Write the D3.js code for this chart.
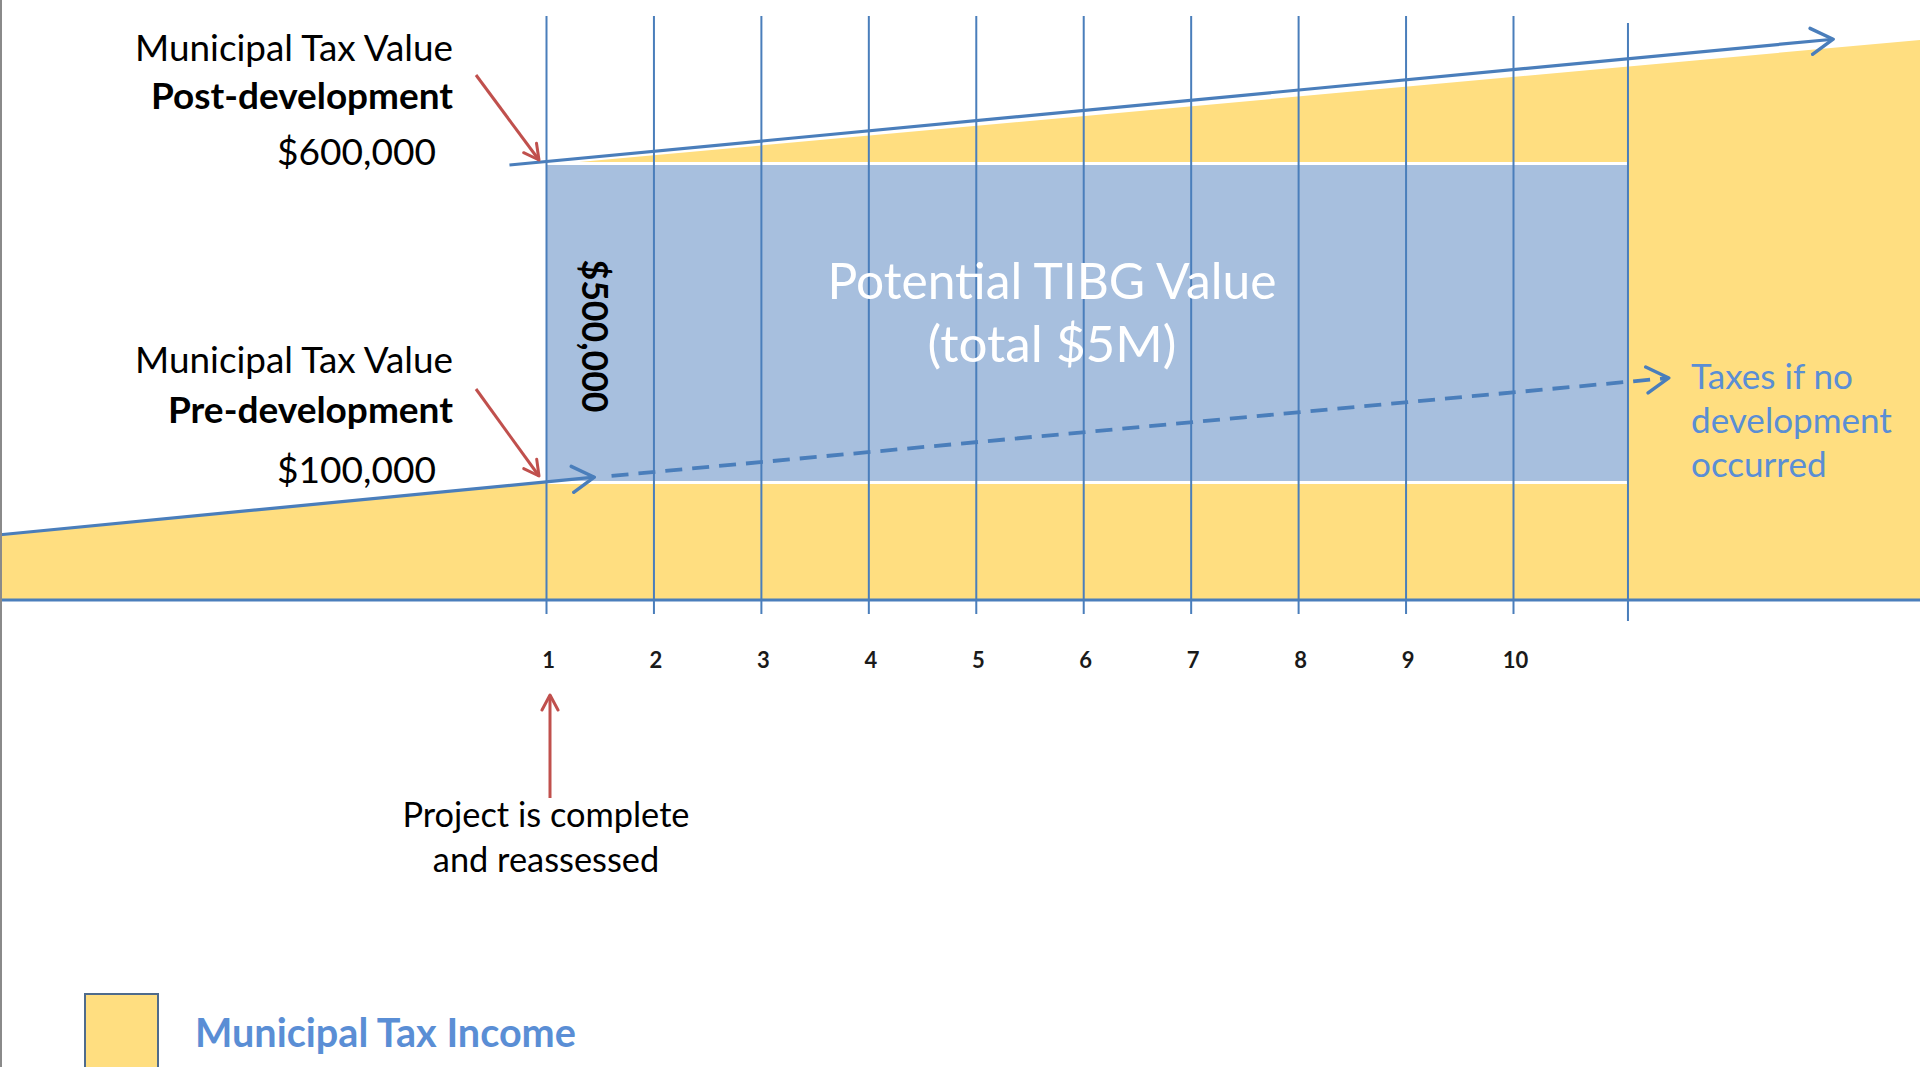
<!DOCTYPE html>
<html><head><meta charset="utf-8">
<script src="https://cdn.jsdelivr.net/npm/d3@7"></script>
<style>
html,body{margin:0;padding:0;background:#fff;overflow:hidden}
svg{display:block}
text{font-family:Lato,"Open Sans",sans-serif}
</style></head><body>
<svg id="chart" width="1920" height="1067"></svg>
<script>
// ---- data (values in $ thousands, x in years) ----
const years = [1, 2, 3, 4, 5, 6, 7, 8, 9, 10];
const tickLabels = ["1", "2", "3", "4", "5", "6", "7", "8", "9", "10"];
const tibgPeriod = [1, 11.07];
const tibgRange = [100, 600];
const incomeYears = [-4.08, 1, 1, 13.79];
const incomeValues = [15, 100, 600, 798];
const postDevYears = [0.66, 12.98];
const postDevValues = [600, 799];
const preDevYears = [-4.08, 1.45];
const preDevValues = [15, 106];
const noDevYears = [1.61, 11.45];
const noDevValues = [108, 263];
const preLabels = ["Municipal Tax Value", "Pre-development", "$100,000"];
const postLabels = ["Municipal Tax Value", "Post-development", "$600,000"];
const noDevLabel = ["Taxes if no", "development", "occurred"];
const completeLabel = ["Project is complete", "and reassessed"];
const tibgLabel = ["Potential TIBG Value", "(total $5M)"];
const tibgAnnual = "$500,000";
const legendLabel = "Municipal Tax Income";

// ---- layout ----
const W = 1920, H = 1067;
const axisY = 600, gridTop = 16, tickBottom = 614;
const YELLOW = "#FFDE80", RECTBLUE = "#A7BFDE", LINE = "#4A7EBB", RED = "#C0504D", TXTBLUE = "#5A8ED5";

const x = d3.scaleLinear().domain([1, 10]).range([546, 1513]);
const y = d3.scaleLinear().domain([100, 600]).range([481, 165]);

const svg = d3.select("#chart");
const defs = svg.append("defs");
function chevron(id, color, len, half, sw) {
  defs.append("marker").attr("id", id).attr("markerUnits", "userSpaceOnUse")
    .attr("viewBox", `-2 -2 ${len + 4} ${2 * half + 4}`)
    .attr("markerWidth", len + 4).attr("markerHeight", 2 * half + 4)
    .attr("refX", len).attr("refY", half).attr("orient", "auto")
    .append("path").attr("d", `M0,0 L${len},${half} L0,${2 * half}`)
    .attr("fill", "none").attr("stroke", color).attr("stroke-width", sw)
    .attr("stroke-linecap", "round").attr("stroke-linejoin", "round");
}
chevron("chevB", LINE, 22, 13, 3.4);
chevron("chevR", RED, 15, 8, 3);

function fit(sel, w) {
  sel.each(function () {
    const fs = parseFloat(this.getAttribute("font-size"));
    const len = this.getComputedTextLength();
    this.setAttribute("font-size", (fs * w / len).toFixed(2));
  });
}

// yellow municipal tax income area
const incomePts = incomeYears.map((d, i) => [d, incomeValues[i]]);
svg.append("path").datum(incomePts)
  .attr("d", d3.area().x(d => x(d[0])).y0(axisY).y1(d => y(d[1])))
  .attr("fill", YELLOW);

// TIBG rectangle
svg.append("rect")
  .attr("x", x(tibgPeriod[0])).attr("y", y(tibgRange[1]))
  .attr("width", x(tibgPeriod[1]) - x(tibgPeriod[0]))
  .attr("height", y(tibgRange[0]) - y(tibgRange[1]))
  .attr("fill", RECTBLUE);
svg.selectAll("line.edge").data(tibgRange).join("line").attr("class", "edge")
  .attr("x1", x(tibgPeriod[0])).attr("x2", x(tibgPeriod[1]))
  .attr("y1", d => y(d) + (d === tibgRange[0] ? 1.5 : -1.5))
  .attr("y2", d => y(d) + (d === tibgRange[0] ? 1.5 : -1.5))
  .attr("stroke", "#fff").attr("stroke-width", 3);

// grid / axis
const ax = svg.append("g").attr("transform", `translate(0,${tickBottom})`)
  .call(d3.axisBottom(x).tickValues(years).tickFormat((d, i) => tickLabels[i])
    .tickSize(-(tickBottom - gridTop)).tickPadding(38));
ax.select(".domain").remove();
ax.selectAll(".tick line").attr("stroke", LINE).attr("stroke-width", 2);
ax.selectAll(".tick text").attr("font-size", 22).attr("font-weight", 700).attr("fill", "#1a1a1a")
  .attr("font-family", "Lato").attr("dx", 2);
svg.append("line").attr("x1", x(tibgPeriod[1])).attr("x2", x(tibgPeriod[1]))
  .attr("y1", 23).attr("y2", 621).attr("stroke", LINE).attr("stroke-width", 2);
svg.append("line").attr("x1", 0).attr("x2", W).attr("y1", axisY).attr("y2", axisY)
  .attr("stroke", LINE).attr("stroke-width", 3);

// trend lines
const ln = d3.line().x(d => x(d[0])).y(d => y(d[1]));
const series = [
  {yr: postDevYears, v: postDevValues, dash: null},
  {yr: preDevYears, v: preDevValues, dash: null},
  {yr: noDevYears, v: noDevValues, dash: "17,10"}
];
svg.selectAll("path.trend").data(series).join("path").attr("class", "trend")
  .attr("d", s => ln(s.yr.map((d, i) => [d, s.v[i]])))
  .attr("fill", "none").attr("stroke", LINE).attr("stroke-width", s => s.dash ? 3.8 : 3.2)
  .attr("stroke-dasharray", s => s.dash).attr("marker-end", "url(#chevB)");

// labels left
function block(lines, baseY, offs, widths) {
  lines.forEach((t, i) => {
    const el = svg.append("text").text(t)
      .attr("x", i === 2 ? 436 : 453).attr("y", baseY + offs[i])
      .attr("text-anchor", "end").attr("font-size", 36)
      .attr("font-weight", i === 1 ? 700 : 400).attr("fill", "#000");
    fit(el, widths[i]);
  });
}
block(postLabels, y(600), [-104, -56, 0], [318, 302, 159]);
block(preLabels, y(100) + 2, [-110, -60, 0], [318, 285, 159]);

// red pointer arrows
const redArrows = [
  [[x(1) - 70, y(600) - 90], [x(1) - 7, y(600) - 5]],
  [[x(1) - 70, y(100) - 92], [x(1) - 7, y(100) - 5]],
  [[x(1) + 4, 798], [x(1) + 4, 695]]
];
svg.selectAll("line.red").data(redArrows).join("line").attr("class", "red")
  .attr("x1", d => d[0][0]).attr("y1", d => d[0][1])
  .attr("x2", d => d[1][0]).attr("y2", d => d[1][1])
  .attr("stroke", RED).attr("stroke-width", 3).attr("marker-end", "url(#chevR)");

// TIBG texts
const cx = (x(tibgPeriod[0]) + x(tibgPeriod[1])) / 2 - 35;
[[tibgLabel[0], 299, 449], [tibgLabel[1], 362, 249]].forEach(([t, yy, w]) => {
  const el = svg.append("text").text(t).attr("x", cx).attr("y", yy)
    .attr("text-anchor", "middle").attr("font-size", 48).attr("fill", "#fff");
  fit(el, w);
});
const rot = svg.append("text").text(tibgAnnual)
  .attr("transform", `translate(582,336) rotate(90)`)
  .attr("text-anchor", "middle").attr("font-size", 36).attr("font-weight", 700).attr("fill", "#000");
fit(rot, 153);

// no-development label
noDevLabel.forEach((t, i) => {
  const el = svg.append("text").text(t).attr("x", 1691).attr("y", 389 + i * 44)
    .attr("font-size", 34).attr("fill", TXTBLUE);
  if (i === 1) fit(el, 201);
});
const fsNo = svg.selectAll("text").filter(function () { return this.textContent === "development"; }).attr("font-size");
svg.selectAll("text").filter(function () { return noDevLabel.includes(this.textContent); }).attr("font-size", fsNo);

// project complete label
completeLabel.forEach((t, i) => {
  const el = svg.append("text").text(t).attr("x", x(1)).attr("y", 827 + i * 45)
    .attr("text-anchor", "middle").attr("font-size", 34).attr("fill", "#000");
  if (i === 0) fit(el, 287);
});
const fsPc = svg.selectAll("text").filter(function () { return this.textContent === completeLabel[0]; }).attr("font-size");
svg.selectAll("text").filter(function () { return this.textContent === completeLabel[1]; }).attr("font-size", fsPc);

// legend
svg.append("rect").attr("x", 85).attr("y", 994).attr("width", 73).attr("height", 80)
  .attr("fill", YELLOW).attr("stroke", "#4F6B8C").attr("stroke-width", 2);
const lg = svg.append("text").text(legendLabel).attr("x", 195).attr("y", 1047)
  .attr("font-size", 40).attr("font-weight", 700).attr("fill", TXTBLUE);
fit(lg, 381);

// left border
svg.append("line").attr("x1", 1).attr("x2", 1).attr("y1", 0).attr("y2", H)
  .attr("stroke", "#8a8a8a").attr("stroke-width", 2);
</script>
</body></html>
